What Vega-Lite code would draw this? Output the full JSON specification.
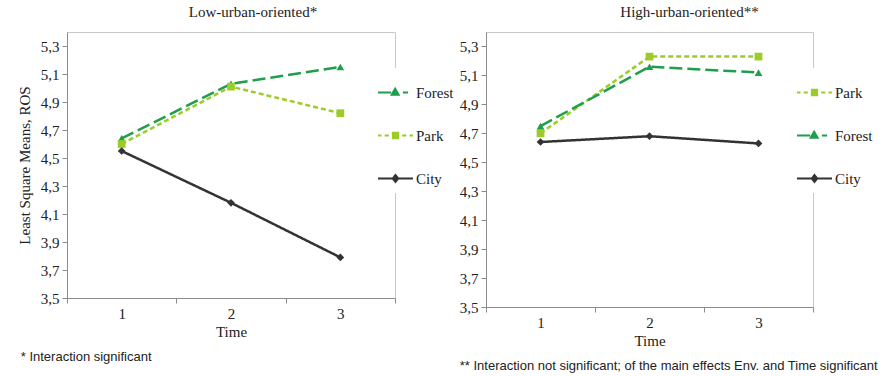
{
  "$schema": "https://vega.github.io/schema/vega-lite/v6.json",
  "background": "white",
  "padding": {"left": 16, "top": 4, "right": 0, "bottom": 0},
  "config": {
    "view": {"stroke": "#c8c8c8", "strokeWidth": 1},
    "font": "Liberation Serif",
    "axis": {"domainColor": "#8c8c8c", "tickColor": "#8c8c8c", "labelColor": "#222222", "titleColor": "#222222", "labelFont": "Liberation Serif", "titleFont": "Liberation Serif", "labelFontSize": 15, "titleFontSize": 15, "titleFontWeight": "normal", "grid": false, "tickSize": 5}
  },
  "datasets": {
    "low": [
      {"env": "Forest", "time": 1, "ros": 4.64},
      {"env": "Forest", "time": 2, "ros": 5.03},
      {"env": "Forest", "time": 3, "ros": 5.15},
      {"env": "Park", "time": 1, "ros": 4.60},
      {"env": "Park", "time": 2, "ros": 5.01},
      {"env": "Park", "time": 3, "ros": 4.82},
      {"env": "City", "time": 1, "ros": 4.55},
      {"env": "City", "time": 2, "ros": 4.18},
      {"env": "City", "time": 3, "ros": 3.79}
    ],
    "high": [
      {"env": "Park", "time": 1, "ros": 4.70},
      {"env": "Park", "time": 2, "ros": 5.23},
      {"env": "Park", "time": 3, "ros": 5.23},
      {"env": "Forest", "time": 1, "ros": 4.75},
      {"env": "Forest", "time": 2, "ros": 5.16},
      {"env": "Forest", "time": 3, "ros": 5.12},
      {"env": "City", "time": 1, "ros": 4.64},
      {"env": "City", "time": 2, "ros": 4.68},
      {"env": "City", "time": 3, "ros": 4.63}
    ]
  },
  "spacing": -3,
  "resolve": {"scale": {"color": "independent", "shape": "independent", "strokeDash": "independent", "x": "independent", "y": "independent"}, "legend": {"color": "independent"}},
  "hconcat": [
    {
      "title": {"text": "* Interaction significant", "orient": "bottom", "anchor": "start", "frame": "bounds", "font": "Liberation Sans", "fontSize": 13, "fontWeight": "normal", "color": "#222222", "offset": 11, "dx": 4},
      "resolve": {"scale": {"color": "independent"}, "legend": {"color": "independent"}},
      "vconcat": [
        {
          "width": 328,
          "height": 266,
          "data": {"name": "low"},
          "title": {"text": "Low-urban-oriented*", "font": "Liberation Serif", "fontSize": 15, "fontWeight": "normal", "color": "#222222", "dx": 22, "offset": 12},
          "encoding": {
            "x": {"field": "time", "type": "ordinal", "scale": {"type": "band", "paddingInner": 0, "paddingOuter": 0}, "axis": {"title": "Time", "labelAngle": 0, "tickBand": "extent", "labelPadding": 3, "titlePadding": 3}},
            "y": {"field": "ros", "type": "quantitative", "scale": {"domain": [3.5, 5.4], "nice": false, "zero": false}, "axis": {"title": "Least Square Means, ROS", "values": [3.5, 3.7, 3.9, 4.1, 4.3, 4.5, 4.7, 4.9, 5.1, 5.3], "labelExpr": "replace(format(datum.value, '.1f'), '.', ',')", "labelPadding": 3, "titlePadding": 8}},
            "color": {"field": "env", "type": "nominal", "scale": {"domain": ["Forest", "Park", "City"], "range": ["#1f9e4c", "#9ccc2a", "#333333"]},
              "legend": {"orient": "none", "legendX": 304, "legendY": 36, "title": null, "fillColor": "white", "padding": 6, "symbolSize": 1225, "rowPadding": 16, "labelOffset": 2, "labelFont": "Liberation Serif", "labelFontSize": 15, "labelColor": "#222222",
                "encode": {"symbols": {"update": {
                  "shape": {"signal": "datum.value === 'Forest' ? 'M-1,0L-0.25,0M0.42,0L0.72,0M-0.02,-0.22L0.18,0.13L-0.22,0.13Z' : datum.value === 'Park' ? 'M-1,0L-0.8,0M-0.62,0L-0.38,0M0.38,0L0.62,0M0.8,0L1,0M-0.2,0L0.2,0M-0.15,-0.16L0.15,-0.16L0.15,0.16L-0.15,0.16Z' : 'M-1,0L1,0M0,-0.2L0.16,0L0,0.2L-0.16,0Z'"},
                  "fill": {"signal": "datum.value === 'Forest' ? '#1f9e4c' : datum.value === 'Park' ? '#9ccc2a' : '#333333'"},
                  "stroke": {"signal": "datum.value === 'Forest' ? '#1f9e4c' : datum.value === 'Park' ? '#9ccc2a' : '#333333'"},
                  "strokeWidth": {"value": 2},
                  "strokeDash": {"value": [1, 0]},
                  "opacity": {"value": 1}
                }}}}}
          },
          "layer": [
            {"mark": {"type": "line", "strokeWidth": 2.5}, "encoding": {"strokeDash": {"field": "env", "type": "nominal", "scale": {"domain": ["Forest", "Park", "City"], "range": [[13, 5], [5, 3], [1, 0]]}, "legend": null}}},
            {"mark": {"type": "point", "filled": true, "opacity": 1, "size": 60}, "encoding": {"shape": {"field": "env", "type": "nominal", "scale": {"domain": ["Forest", "Park", "City"], "range": ["triangle-up", "square", "diamond"]}, "legend": null}}}
          ]
        }
      ]
    },
    {
      "title": {"text": "** Interaction not significant; of the main effects Env. and Time significant", "orient": "bottom", "anchor": "start", "frame": "bounds", "font": "Liberation Sans", "fontSize": 13, "fontWeight": "normal", "color": "#222222", "offset": 11, "dx": 1},
      "resolve": {"scale": {"color": "independent"}, "legend": {"color": "independent"}},
      "vconcat": [
        {
          "width": 327,
          "height": 275,
          "data": {"name": "high"},
          "title": {"text": "High-urban-oriented**", "font": "Liberation Serif", "fontSize": 15, "fontWeight": "normal", "color": "#222222", "dx": 40, "offset": 12},
          "encoding": {
            "x": {"field": "time", "type": "ordinal", "scale": {"type": "band", "paddingInner": 0, "paddingOuter": 0}, "axis": {"title": "Time", "labelAngle": 0, "tickBand": "extent", "labelPadding": 3, "titlePadding": 3}},
            "y": {"field": "ros", "type": "quantitative", "scale": {"domain": [3.5, 5.4], "nice": false, "zero": false}, "axis": {"title": null, "values": [3.5, 3.7, 3.9, 4.1, 4.3, 4.5, 4.7, 4.9, 5.1, 5.3], "labelExpr": "replace(format(datum.value, '.1f'), '.', ',')", "labelPadding": 3}},
            "color": {"field": "env", "type": "nominal", "scale": {"domain": ["Park", "Forest", "City"], "range": ["#9ccc2a", "#1f9e4c", "#333333"]},
              "legend": {"orient": "none", "legendX": 304, "legendY": 36, "title": null, "fillColor": "white", "padding": 6, "symbolSize": 1225, "rowPadding": 16, "labelOffset": 2, "labelFont": "Liberation Serif", "labelFontSize": 15, "labelColor": "#222222",
                "encode": {"symbols": {"update": {
                  "shape": {"signal": "datum.value === 'Forest' ? 'M-1,0L-0.25,0M0.42,0L0.72,0M-0.02,-0.22L0.18,0.13L-0.22,0.13Z' : datum.value === 'Park' ? 'M-1,0L-0.8,0M-0.62,0L-0.38,0M0.38,0L0.62,0M0.8,0L1,0M-0.2,0L0.2,0M-0.15,-0.16L0.15,-0.16L0.15,0.16L-0.15,0.16Z' : 'M-1,0L1,0M0,-0.2L0.16,0L0,0.2L-0.16,0Z'"},
                  "fill": {"signal": "datum.value === 'Forest' ? '#1f9e4c' : datum.value === 'Park' ? '#9ccc2a' : '#333333'"},
                  "stroke": {"signal": "datum.value === 'Forest' ? '#1f9e4c' : datum.value === 'Park' ? '#9ccc2a' : '#333333'"},
                  "strokeWidth": {"value": 2},
                  "strokeDash": {"value": [1, 0]},
                  "opacity": {"value": 1}
                }}}}}
          },
          "layer": [
            {"mark": {"type": "line", "strokeWidth": 2.5}, "encoding": {"strokeDash": {"field": "env", "type": "nominal", "scale": {"domain": ["Forest", "Park", "City"], "range": [[13, 5], [5, 3], [1, 0]]}, "legend": null}}},
            {"mark": {"type": "point", "filled": true, "opacity": 1, "size": 60}, "encoding": {"shape": {"field": "env", "type": "nominal", "scale": {"domain": ["Forest", "Park", "City"], "range": ["triangle-up", "square", "diamond"]}, "legend": null}}}
          ]
        }
      ]
    }
  ]
}
